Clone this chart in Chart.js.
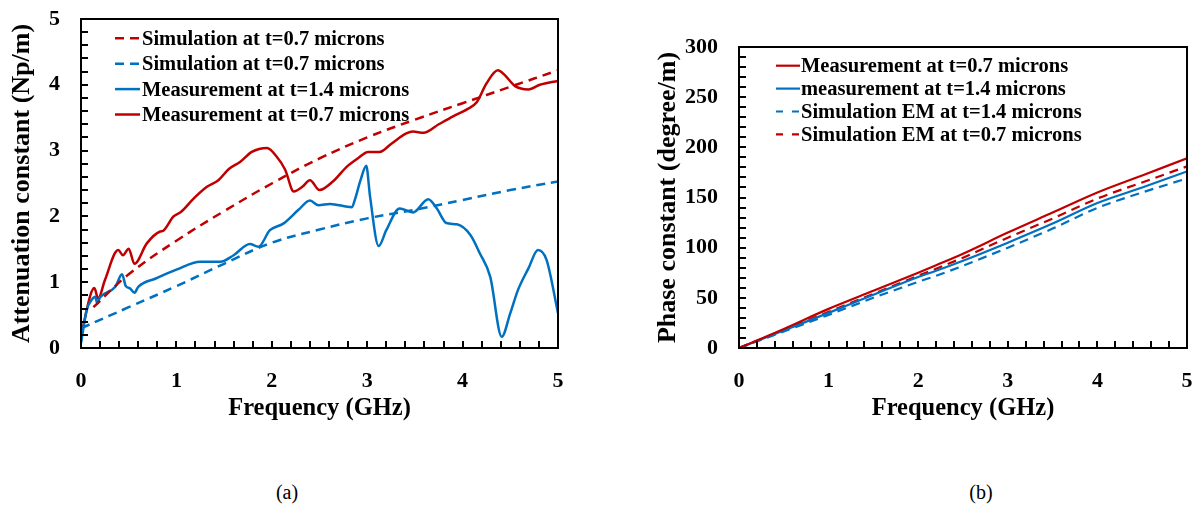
<!DOCTYPE html>
<html><head><meta charset="utf-8">
<script src="https://cdn.jsdelivr.net/npm/chart.js@4.4.0/dist/chart.umd.min.js"></script>
<style>
html,body{margin:0;padding:0;background:#fff;width:1198px;height:509px;overflow:hidden;position:relative;}
canvas{position:absolute;}
#cA{left:0;top:0;}
#cB{left:640px;top:0;}
.cap{position:absolute;top:481px;font-family:"Liberation Serif","Times New Roman",serif;font-size:20px;color:#000;transform:translateX(-50%);line-height:23px;}
</style></head><body>
<canvas id="cA" width="580" height="440"></canvas>
<canvas id="cB" width="558" height="440"></canvas>
<div class="cap" style="left:287px">(a)</div>
<div class="cap" style="left:981px">(b)</div>
<script>
// ---------- Chart (a): attenuation constant ----------
const simRedFreq = [0.13, 0.5, 1, 1.5, 2, 2.5, 3, 3.5, 4, 4.5, 5];
const simRedAttn = [0.62, 1.12, 1.63, 2.08, 2.5, 2.88, 3.2, 3.47, 3.72, 3.97, 4.22];

const simBlueFreq = [0, 0.5, 1, 1.5, 2, 2.5, 3, 3.5, 4, 4.5, 5];
const simBlueAttn = [0.3, 0.62, 0.94, 1.28, 1.6, 1.8, 1.97, 2.1, 2.25, 2.4, 2.53];

const measBlueFreq = [0, 0.06, 0.11, 0.15, 0.17, 0.2, 0.36, 0.43, 0.47, 0.51, 0.56, 0.6, 0.79, 1.0, 1.25, 1.46, 1.6, 1.77, 1.86, 1.98, 2.12, 2.28, 2.4, 2.49, 2.61, 2.84, 2.87, 2.93, 2.99, 3.03, 3.12, 3.2, 3.34, 3.48, 3.64, 3.73, 3.83, 3.94, 4.08, 4.18, 4.29, 4.41, 4.5, 4.58, 4.69, 4.79, 4.88, 5.0];
const measBlueAttn = [0.07, 0.58, 0.73, 0.78, 0.68, 0.77, 0.93, 1.12, 0.94, 0.91, 0.84, 0.93, 1.06, 1.19, 1.31, 1.31, 1.41, 1.58, 1.54, 1.79, 1.89, 2.1, 2.24, 2.17, 2.19, 2.14, 2.25, 2.55, 2.77, 2.3, 1.55, 1.79, 2.12, 2.06, 2.26, 2.12, 1.9, 1.88, 1.72, 1.44, 1.08, 0.17, 0.53, 0.88, 1.21, 1.49, 1.34, 0.53];

const measRedFreq = [0, 0.14, 0.18, 0.25, 0.39, 0.44, 0.5, 0.56, 0.69, 0.83, 0.86, 0.97, 1.05, 1.18, 1.32, 1.44, 1.55, 1.67, 1.79, 1.95, 2.05, 2.14, 2.23, 2.32, 2.4, 2.5, 2.64, 2.79, 2.9, 3.01, 3.13, 3.25, 3.41, 3.48, 3.59, 3.75, 3.9, 4.05, 4.15, 4.25, 4.37, 4.44, 4.55, 4.69, 4.81, 5.0];
const measRedAttn = [0.2, 0.91, 0.75, 1.03, 1.49, 1.41, 1.51, 1.28, 1.59, 1.77, 1.78, 2.0, 2.07, 2.27, 2.45, 2.55, 2.72, 2.83, 2.98, 3.04, 2.91, 2.71, 2.38, 2.45, 2.55, 2.40, 2.53, 2.76, 2.88, 2.98, 2.98, 3.1, 3.26, 3.29, 3.27, 3.4, 3.52, 3.63, 3.74, 4.02, 4.22, 4.15, 3.98, 3.93, 4.0, 4.06];

const ticksA_x = [0, 1, 2, 3, 4, 5];
const ticksA_y = [0, 1, 2, 3, 4, 5];

// ---------- Chart (b): phase constant ----------
const phaseFreq = [0, 0.5, 1, 1.5, 2, 2.2, 2.5, 3, 3.5, 4, 4.5, 5];
const phaseMeas07 = [0, 19, 39, 57, 75, 82.5, 94, 115, 135, 155, 172, 189];
const phaseMeas14 = [0, 17.5, 35, 53, 70.8, 77, 87, 105, 124, 144.5, 160, 176];
const phaseSim14 = [0, 16.5, 33, 50, 66, 72, 82, 100, 119, 139.6, 155, 169];
const phaseSim07 = [0, 18, 36, 54, 72, 79, 90, 110, 129, 149, 165, 181];

const ticksB_y = [0, 50, 100, 150, 200, 250, 300];

const RED = '#C00000', BLUE = '#0070C0';
const FONT = '"Liberation Serif","Times New Roman",serif';

function pts(xs, ys) { return xs.map((x, i) => ({ x: x, y: ys[i] })); }

const framePlugin = {
  id: 'frame',
  afterDatasetsDraw(chart, args, o) {
    const ctx = chart.ctx, a = chart.chartArea, xs = chart.scales.x, ys = chart.scales.y;
    ctx.save();
    ctx.strokeStyle = '#000';
    ctx.lineWidth = 2;
    ctx.setLineDash([]);
    ctx.beginPath();
    const nx = Math.round((xs.max - xs.min) / o.xMinor);
    for (let i = 1; i < nx; i++) {
      const px = Math.round(xs.getPixelForValue(xs.min + i * o.xMinor));
      ctx.moveTo(px, a.bottom); ctx.lineTo(px, a.bottom - o.len);
    }
    const ny = Math.round((ys.max - ys.min) / o.yMinor);
    for (let i = 1; i < ny; i++) {
      const py = Math.round(ys.getPixelForValue(ys.min + i * o.yMinor));
      ctx.moveTo(a.left, py); ctx.lineTo(a.left + o.len, py);
    }
    ctx.stroke();
    ctx.strokeRect(a.left, a.top, a.right - a.left, a.bottom - a.top);
    ctx.restore();
  }
};

const legendPlugin = {
  id: 'inLegend',
  afterDraw(chart, args, o) {
    const ctx = chart.ctx;
    ctx.save();
    ctx.font = 'bold ' + o.size + 'px ' + FONT;
    ctx.fillStyle = '#000';
    ctx.textBaseline = 'alphabetic';
    ctx.textAlign = 'left';
    chart.data.datasets.forEach((ds, i) => {
      const cy = o.y0 + i * o.dy;
      ctx.strokeStyle = ds.borderColor;
      ctx.lineWidth = ds.borderWidth;
      ctx.setLineDash(ds.borderDash ? o.dash : []);
      ctx.beginPath(); ctx.moveTo(o.x0, cy); ctx.lineTo(o.x1, cy); ctx.stroke();
      ctx.setLineDash([]);
      ctx.fillText(ds.label, o.tx, cy + o.size * 0.33);
    });
    ctx.restore();
  }
};

function tickFont(size) { return { family: FONT, size: size, weight: 'bold' }; }

function fixSize(w, h) {
  return s => {
    if (w !== null) s.width = w;
    if (h !== null) s.height = h;
    s.paddingTop = 0; s.paddingBottom = 0; s.paddingLeft = 0; s.paddingRight = 0;
  };
}

function baseScale(min, max, tickVals, extra) {
  return Object.assign({
    type: 'linear', min: min, max: max,
    border: { display: false },
    grid: { display: false, drawTicks: false },
    afterBuildTicks: s => { s.ticks = tickVals.map(v => ({ value: v })); }
  }, extra);
}

function lineDs(label, data, color, dashed, width, mono) {
  return {
    label: label, data: data, borderColor: color, backgroundColor: color,
    borderWidth: width, borderDash: dashed ? [9, 6] : undefined,
    pointRadius: 0, fill: false,
    cubicInterpolationMode: mono ? 'monotone' : 'default', tension: mono ? 0 : 0.4
  };
}

new Chart(document.getElementById('cA'), {
  type: 'line',
  data: {
    datasets: [
      lineDs('Simulation at t=0.7 microns', pts(simRedFreq, simRedAttn), RED, true, 2.5, false),
      lineDs('Simulation at t=0.7 microns', pts(simBlueFreq, simBlueAttn), BLUE, true, 2.5, false),
      lineDs('Measurement at t=1.4 microns', pts(measBlueFreq, measBlueAttn), BLUE, false, 2.5, true),
      lineDs('Measurement at t=0.7 microns', pts(measRedFreq, measRedAttn), RED, false, 2.5, true)
    ]
  },
  options: {
    responsive: false, animation: false, devicePixelRatio: 1,
    layout: { padding: { top: 19, right: 22, left: 0, bottom: 0 } },
    plugins: {
      legend: { display: false }, tooltip: { enabled: false },
      frame: { xMinor: 0.2, yMinor: 0.2, len: 7 },
      inLegend: { x0: 115, x1: 140, tx: 142, y0: 38.3, dy: 25.4, size: 20.5, dash: [9, 6] }
    },
    scales: {
      x: baseScale(0, 5, ticksA_x, {
        afterFit: fixSize(null, 92),
        ticks: { color: '#000', font: tickFont(22), padding: 20, autoSkip: false, maxRotation: 0, minRotation: 0 },
        title: { display: true, text: 'Frequency (GHz)', color: '#000', font: tickFont(24.5), padding: { top: 0, bottom: 17 } }
      }),
      y: baseScale(0, 5, ticksA_y, {
        afterFit: fixSize(81, null),
        ticks: { color: '#000', font: tickFont(22), padding: 21, autoSkip: false },
        title: { display: true, text: 'Attenuation constant (Np/m)', color: '#000', font: tickFont(26), padding: { top: 7, bottom: 0 } }
      })
    }
  },
  plugins: [framePlugin, legendPlugin]
});

new Chart(document.getElementById('cB'), {
  type: 'line',
  data: {
    datasets: [
      lineDs('Measurement at t=0.7 microns', pts(phaseFreq, phaseMeas07), RED, false, 2.2, true),
      lineDs('measurement at t=1.4 microns', pts(phaseFreq, phaseMeas14), BLUE, false, 2.2, true),
      lineDs('Simulation EM at t=1.4 microns', pts(phaseFreq, phaseSim14), BLUE, true, 2.2, true),
      lineDs('Simulation EM at t=0.7 microns', pts(phaseFreq, phaseSim07), RED, true, 2.2, true)
    ]
  },
  options: {
    responsive: false, animation: false, devicePixelRatio: 1,
    layout: { padding: { top: 47, right: 11, left: 0, bottom: 0 } },
    plugins: {
      legend: { display: false }, tooltip: { enabled: false },
      frame: { xMinor: 0.2, yMinor: 10, len: 7 },
      inLegend: { x0: 136, x1: 160, tx: 161, y0: 65.7, dy: 22.9, size: 20.5, dash: [7, 9] }
    },
    scales: {
      x: baseScale(0, 5, ticksA_x, {
        afterFit: fixSize(null, 92),
        ticks: { color: '#000', font: tickFont(22), padding: 20, autoSkip: false, maxRotation: 0, minRotation: 0 },
        title: { display: true, text: 'Frequency (GHz)', color: '#000', font: tickFont(24.5), padding: { top: 0, bottom: 17 } }
      }),
      y: baseScale(0, 300, ticksB_y, {
        afterFit: fixSize(99, null),
        ticks: { color: '#000', font: tickFont(22), padding: 21, autoSkip: false },
        title: { display: true, text: 'Phase constant (degree/m)', color: '#000', font: tickFont(26), padding: { top: 13, bottom: 0 } }
      })
    }
  },
  plugins: [framePlugin, legendPlugin]
});
</script>
</body></html>
